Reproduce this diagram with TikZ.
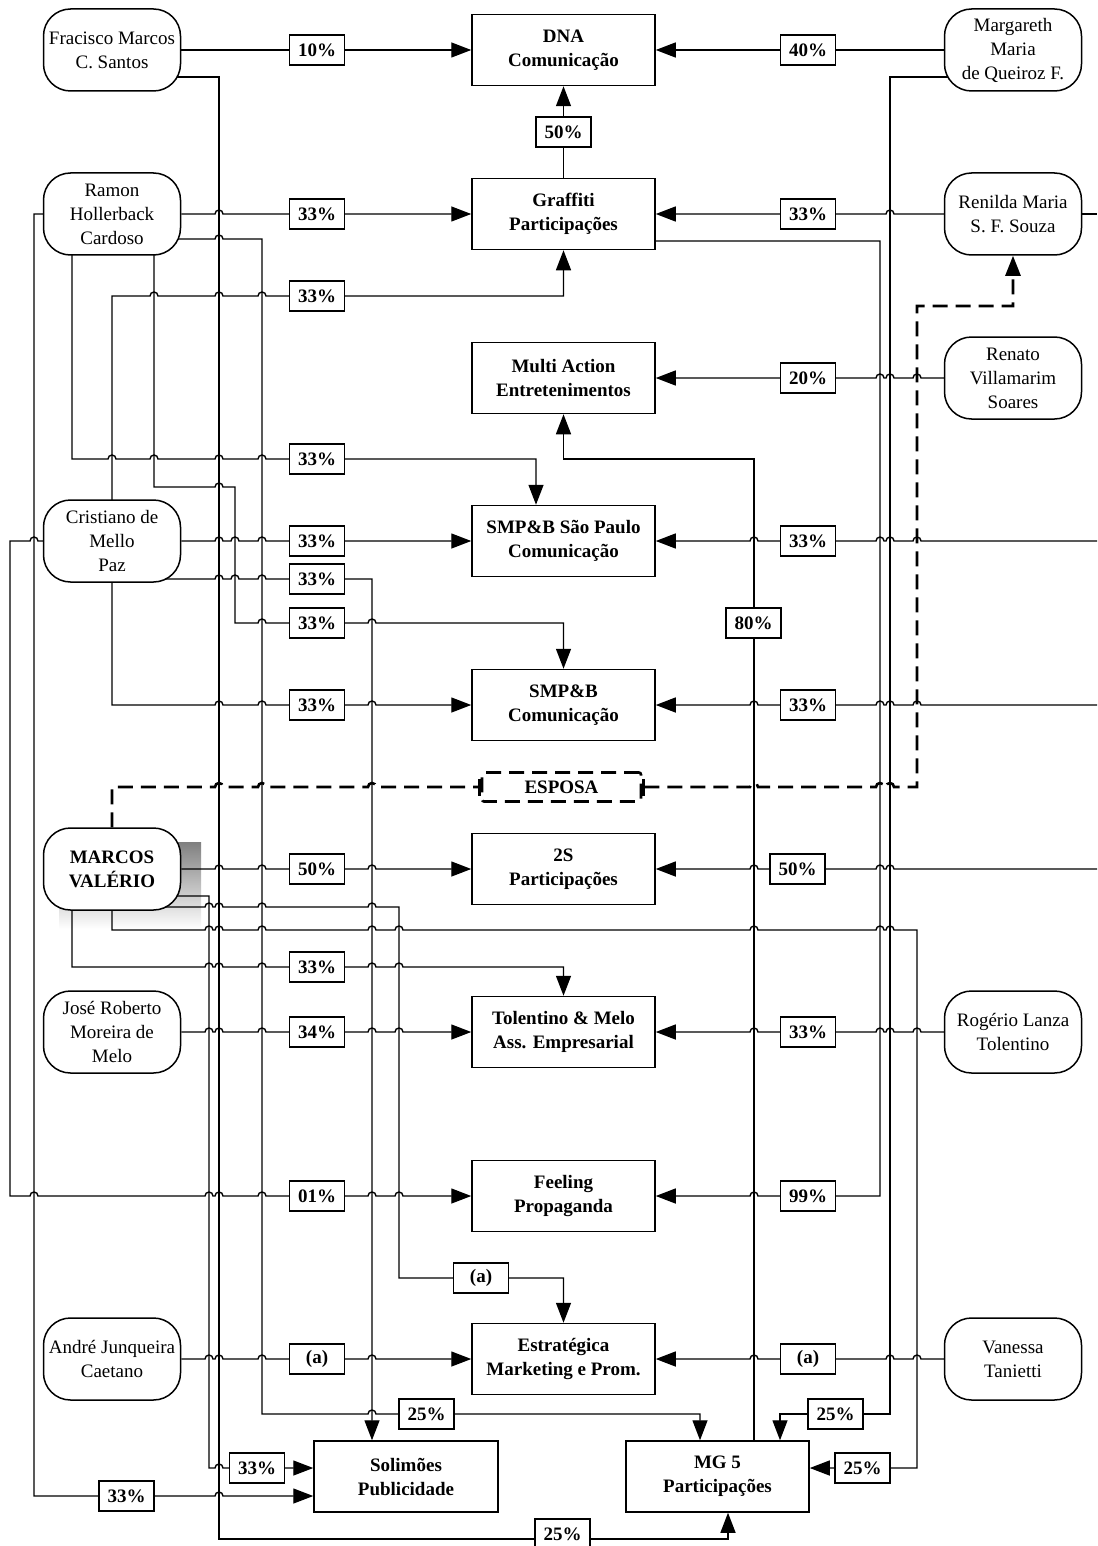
\documentclass[tikz,border=0pt]{standalone}
\usepackage{fontspec}
\setmainfont{Liberation Serif}
\usetikzlibrary{arrows.meta}
\pgfdeclarelayer{back}
\pgfdeclarelayer{lines}
\pgfsetlayers{back,lines,main}
\newcommand{\myfs}{\fontsize{19pt}{24pt}\selectfont}
\definecolor{shade}{RGB}{179,179,179}
\tikzset{
  conn/.style={line width=1.4pt},
  arr/.style={conn,-{Triangle[length=20pt,width=15pt]}},
  dsh/.style={line width=2.6pt,dash pattern=on 15pt off 8pt},
  person/.style={draw,line width=1.5pt,fill=white,rounded corners=27pt,minimum width=137pt,minimum height=82pt,inner sep=0pt,align=center,font=\myfs},
  company/.style={draw,line width=1.5pt,fill=white,minimum width=183pt,minimum height=71pt,inner sep=0pt,align=center,font=\myfs\bfseries},
  pct/.style={draw,line width=1.5pt,fill=white,minimum width=55pt,minimum height=30pt,inner sep=0pt,font=\myfs\bfseries},
  hr/.style args={#1/#2}{insert path={-- (#1-4,#2) arc[start angle=180,end angle=0,radius=4pt]}},
  hl/.style args={#1/#2}{insert path={-- (#1+4,#2) arc[start angle=0,end angle=180,radius=4pt]}},
}
\begin{document}
\begin{tikzpicture}[x=1pt,y=-1pt]
\useasboundingbox (0,0) rectangle (1097,1546);
\begin{pgfonlayer}{back}
\fill[white] (0,0) rectangle (1097,1546);
\fill[shade] (59,842) rectangle (201,929);
\end{pgfonlayer}

% persons
\node[person] (fran) at (112,50) {Fracisco Marcos\\C. Santos};
\node[person] (ramon) at (112,214) {Ramon\\Hollerback\\Cardoso};
\node[person] (cris) at (112,541) {Cristiano de\\Mello\\Paz};
\node[person,font=\myfs\bfseries] (marcos) at (112,869) {MARCOS\\VALÉRIO};
\node[person] (jose) at (112,1032) {José Roberto\\Moreira de\\Melo};
\node[person] (andre) at (112,1359) {André Junqueira\\Caetano};
\node[person] (marg) at (1013,50) {Margareth\\Maria\\de Queiroz F.};
\node[person] (renilda) at (1013,214) {Renilda Maria\\S. F. Souza};
\node[person] (renato) at (1013,378) {Renato\\Villamarim\\Soares};
\node[person] (rogerio) at (1013,1032) {Rogério Lanza\\Tolentino};
\node[person] (vanessa) at (1013,1359) {Vanessa\\Tanietti};

% companies
\node[company] (dna) at (563.5,50) {DNA\\Comunicação};
\node[company] (graf) at (563.5,214) {Graffiti\\Participações};
\node[company] (multi) at (563.5,378) {Multi Action\\Entretenimentos};
\node[company] (sp) at (563.5,541) {SMP\&B São Paulo\\Comunicação};
\node[company] (smp) at (563.5,705) {SMP\&B\\Comunicação};
\node[company] (s2) at (563.5,869) {2S\\Participações};
\node[company] (tol) at (563.5,1032) {Tolentino \& Melo\\Ass. Empresarial};
\node[company] (feel) at (563.5,1196) {Feeling\\Propaganda};
\node[company] (estr) at (563.5,1359) {Estratégica\\Marketing e Prom.};
\node[company,minimum width=184pt] (sol) at (406,1476.5) {Solimões\\Publicidade};
\node[company] (mg5) at (717.5,1476.5) {MG 5\\Participações};

\node[draw,line width=2.6pt,dash pattern=on 15pt off 8pt,rounded corners=2pt,fill=white,minimum width=159pt,minimum height=29pt,inner sep=0pt,font=\myfs\bfseries] (esposa) at (561.5,787) {ESPOSA};

% free ends at the right border
\coordinate (eR1) at (1097,214);
\coordinate (eR2) at (1097,541);
\coordinate (eR3) at (1097,705);
\coordinate (eR4) at (1097,869);

% labels
\node[pct] (l10) at (317,50) {10\%};
\node[pct] (l40) at (808,50) {40\%};
\node[pct] (l50) at (563.5,132) {50\%};
\node[pct] (lg1) at (317,214) {33\%};
\node[pct] (lg2) at (808,214) {33\%};
\node[pct] (lg3) at (317,296) {33\%};
\node[pct] (lm1) at (808,378) {20\%};
\node[pct] (lsp1) at (317,459) {33\%};
\node[pct] (lsp2) at (317,541) {33\%};
\node[pct] (lsp3) at (808,541) {33\%};
\node[pct] (lsol1) at (317,579) {33\%};
\node[pct] (lsmp1) at (317,623) {33\%};
\node[pct] (l80) at (753.5,623) {80\%};
\node[pct] (lsmp2) at (317,705) {33\%};
\node[pct] (lsmp3) at (808,705) {33\%};
\node[pct] (l2s1) at (317,869) {50\%};
\node[pct] (l2s2) at (797.5,869) {50\%};
\node[pct] (ltol1) at (317,967) {33\%};
\node[pct] (ltol2) at (317,1032) {34\%};
\node[pct] (ltol3) at (808,1032) {33\%};
\node[pct] (lf1) at (317,1196) {01\%};
\node[pct] (lf2) at (808,1196) {99\%};
\node[pct] (la1) at (481,1278) {(a)};
\node[pct] (la2) at (317,1359) {(a)};
\node[pct] (la3) at (808,1359) {(a)};
\node[pct] (lmg1) at (426.5,1414) {25\%};
\node[pct] (lmg2) at (835.5,1414) {25\%};
\node[pct] (lmg3) at (862.5,1468) {25\%};
\node[pct] (lmg4) at (562.5,1534) {25\%};
\node[pct] (lsol2) at (257,1468) {33\%};
\node[pct] (lsol3) at (126.5,1496) {33\%};

\begin{pgfonlayer}{lines}
% DNA
\draw[arr] (fran.east) -- (dna.west);
\draw[arr] (marg.west) -- (dna.east);
\draw[arr] (graf.north) -- (dna.south);
% Graffiti
\draw[arr] (ramon.east) [hr=219/214] -- (graf.west);
\draw[arr] (renilda.west) [hl=890/214] -- (graf.east);
\draw[arr] (cris.center) -- (112,296) [hr=154/296] [hr=219/296] [hr=262/296] -- (563.5,296) -- (graf.south);
\draw[conn] (renilda.east) -- (eR1);
% Multi Action
\draw[arr] (renato.west) [hl=917/378] [hl=890/378] [hl=880/378] -- (multi.east);
\draw[arr] ([xshift=36.5pt]mg5.north) -- (754,459) -- (563.5,459) -- (multi.south);
% SMP&B Sao Paulo
\draw[arr] ([xshift=-40pt]ramon.center) -- (72,459) [hr=112/459] [hr=154/459] [hr=219/459] [hr=262/459] -- (536,459) -- ([xshift=-27.5pt]sp.north);
\draw[arr] (cris.east) [hr=219/541] [hr=235/541] [hr=262/541] -- (sp.west);
\draw[arr] (eR2) [hl=917/541] [hl=890/541] [hl=880/541] [hl=754/541] -- (sp.east);
% SMP&B
\draw[arr] ([xshift=42pt]ramon.center) -- (154,487) [hr=219/487] -- (235,487) -- (235,623) [hr=262/623] [hr=372/623] -- (563.5,623) -- (smp.north);
\draw[arr] (cris.center) -- (112,705) [hr=219/705] [hr=262/705] [hr=372/705] -- (smp.west);
\draw[arr] (eR3) [hl=917/705] [hl=890/705] [hl=880/705] [hl=754/705] -- (smp.east);
% 2S
\draw[arr] (marcos.east) [hr=219/869] [hr=262/869] [hr=372/869] -- (s2.west);
\draw[arr] (eR4) [hl=890/869] [hl=880/869] [hl=754/869] -- (s2.east);
% Tolentino
\draw[arr] ([xshift=-40pt]marcos.center) -- (72,967) [hr=209/967] [hr=219/967] [hr=262/967] [hr=372/967] [hr=399/967] -- (563.5,967) -- (tol.north);
\draw[arr] (jose.east) [hr=209/1032] [hr=219/1032] [hr=262/1032] [hr=372/1032] [hr=399/1032] -- (tol.west);
\draw[arr] (rogerio.west) [hl=917/1032] [hl=890/1032] [hl=880/1032] [hl=754/1032] -- (tol.east);
% Feeling
\draw[arr] (cris.west) [hl=34/541] -- (10,541) -- (10,1196) [hr=34/1196] [hr=209/1196] [hr=219/1196] [hr=262/1196] [hr=372/1196] [hr=399/1196] -- (feel.west);
\draw[arr] ([yshift=-27pt]graf.east) -- (880,241) -- (880,1196) [hl=754/1196] -- (feel.east);
% Estrategica
\draw[arr] ([yshift=-38pt]marcos.center) [hr=209/907] [hr=219/907] [hr=262/907] [hr=372/907] -- (399,907) -- (399,1278) -- (563.5,1278) -- (estr.north);
\draw[arr] (andre.east) [hr=209/1359] [hr=219/1359] [hr=262/1359] [hr=372/1359] -- (estr.west);
\draw[arr] (vanessa.west) [hl=917/1359] [hl=890/1359] [hl=754/1359] -- (estr.east);
% Solimoes
\draw[arr] ([yshift=-38pt]cris.center) [hr=219/579] [hr=235/579] [hr=262/579] -- (372,579) -- ([xshift=-34pt]sol.north);
\draw[arr] ([yshift=-27pt]marcos.center) -- (209,896) -- (209,1468) [hr=219/1468] -- ([yshift=8.5pt]sol.west);
\draw[arr] (ramon.west) -- (34,214) -- (34,1496) [hr=219/1496] -- ([yshift=-19.5pt]sol.west);
% MG 5
\draw[arr] ([yshift=-25pt]ramon.center) [hr=219/239] -- (262,239) -- (262,1414) [hr=372/1414] -- (700,1414) -- ([xshift=-17.5pt]mg5.north);
\draw[arr] ([yshift=-27pt]marg.center) -- (890,77) -- (890,1414) -- (780,1414) -- ([xshift=62.5pt]mg5.north);
\draw[arr] (marcos.center) -- (112,930) [hr=209/930] [hr=219/930] [hr=262/930] [hr=372/930] [hr=399/930] [hr=754/930] [hr=880/930] [hr=890/930] -- (917,930) -- (917,1468) -- ([yshift=8.5pt]mg5.east);
\draw[arr] ([yshift=-27pt]fran.center) -- (219,77) -- (219,1539) -- (728,1539) -- ([xshift=10.5pt]mg5.south);
% ESPOSA
\draw[dsh,-{Bar[width=17pt]}] (marcos.north) -- (112,787) [hr=219/787] [hr=262/787] [hr=372/787] -- (esposa.west);
\draw[dsh,{Bar[width=17pt]}-{Triangle[length=20pt,width=15pt]}] (esposa.east) [hr=754/787] [hr=880/787] [hr=890/787] -- (917,787) -- (917,306) -- (1013,306) -- (renilda.south);
\end{pgfonlayer}
\end{tikzpicture}
\end{document}
